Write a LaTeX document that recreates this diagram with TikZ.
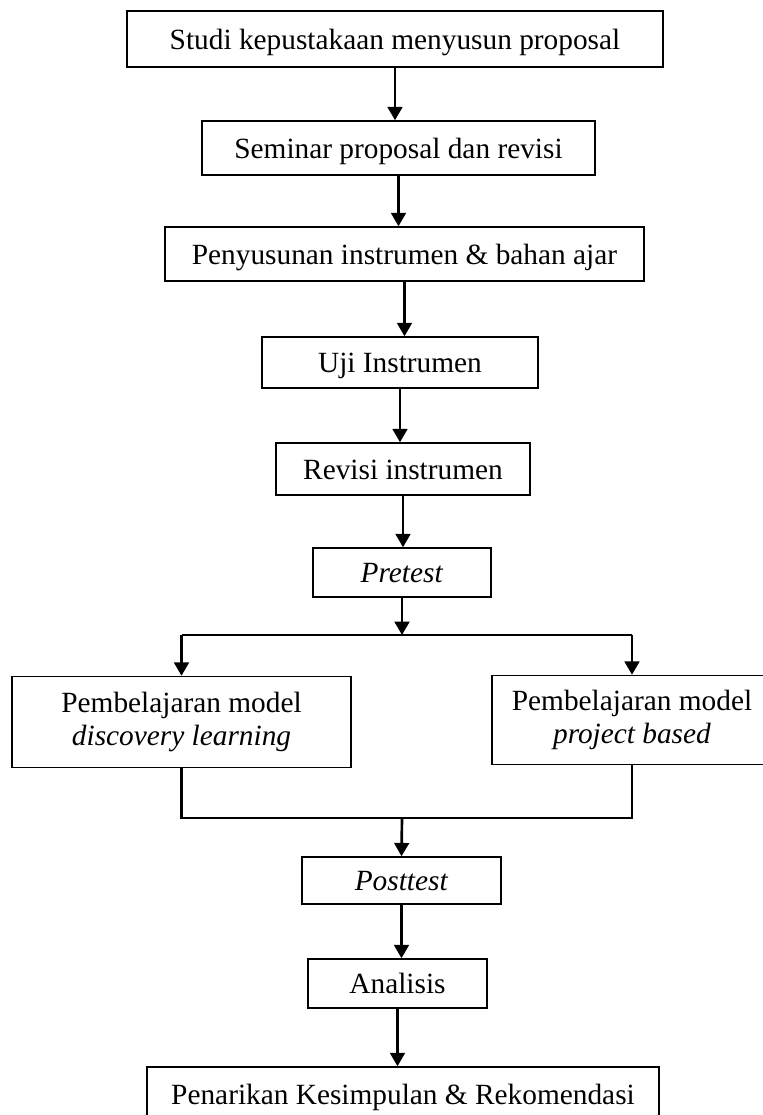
\documentclass[tikz,border=0pt]{standalone}
\usepackage{fontspec}
\setmainfont{Liberation Serif}
\usetikzlibrary{arrows.meta, calc, positioning}

\begin{document}
\begin{tikzpicture}[x=0.75pt, y=-0.75pt, >={Triangle[length=10pt,width=11pt]},
	kotak/.style={draw, line width=1.1pt, inner sep=0pt, align=center, text height=15.5pt, text depth=0pt, font=\fontsize{22}{25}\selectfont},
	kotakdua/.style={draw, line width=1.1pt, inner sep=0pt, align=center, font=\fontsize{22}{25}\selectfont},
	panah/.style={->, line width=2pt},
	garis/.style={line width=2pt}]
		\useasboundingbox (0,0) rectangle (763,1115);
		% alur utama
		\node[kotak, minimum width=402pt, minimum height=42pt] (studi) at (395,39) {Studi kepustakaan menyusun proposal};
		\node[kotak, minimum width=294.75pt, minimum height=40.5pt] (seminar) at (398.5,148) {Seminar proposal dan revisi};
		\node[kotak, minimum width=359.25pt, minimum height=40.5pt] (susun) at (404.5,254) {Penyusunan instrumen \& bahan ajar};
		\node[kotak, minimum width=207pt, minimum height=38.25pt] (uji) at (400,362.5) {Uji Instrumen};
		\node[kotak, minimum width=190.5pt, minimum height=39pt] (revisi) at (403,469) {Revisi instrumen};
		\node[kotak, minimum width=133.5pt, minimum height=36.75pt] (pretest) at (402,572.5) {\textit{Pretest}};
		\draw[panah] (studi.south) -- (studi.south |- seminar.north); \draw[panah] (seminar.south) -- (seminar.south |- susun.north);
		\draw[panah] (susun.south) -- (susun.south |- uji.north); \draw[panah] (uji.south) -- (uji.south |- revisi.north);
		\draw[panah] (revisi.south) -- (revisi.south |- pretest.north);

		% dua kelas
		\node[kotakdua, minimum width=254.25pt, minimum height=68.25pt] (discovery) at (181.5,722) {Pembelajaran model\\\textit{discovery learning}};
		\node[kotakdua, minimum width=210pt, minimum height=66.75pt] (project) at (632,720) {Pembelajaran model\\\textit{project based}};
		\coordinate (cabang) at (402,635); \coordinate (gabung) at (402,818);
		\draw[panah] (pretest.south) -- (cabang); \draw[garis] (discovery.north |- cabang) -- (project.north |- cabang);
		\draw[panah] (discovery.north |- cabang) -- (discovery.north); \draw[panah] (project.north |- cabang) -- (project.north);
		\draw[garis] (discovery.south) -- (discovery.south |- gabung) -- (project.south |- gabung) -- (project.south);

		% akhir
		\node[kotak, minimum width=149.25pt, minimum height=35.25pt] (posttest) at (401.5,880.5) {\textit{Posttest}};
		\node[kotak, minimum width=134.25pt, minimum height=36.75pt] (analisis) at (397.5,983.5) {Analisis};
		\node[kotak, minimum width=384pt, minimum height=40.5pt] (simpul) at (403,1094) {Penarikan Kesimpulan \& Rekomendasi};
		\draw[panah] (gabung) -- (posttest.north); \draw[panah] (posttest.south) -- (posttest.south |- analisis.north);
		\draw[panah] (analisis.south) -- (analisis.south |- simpul.north);
	\end{tikzpicture}
\end{document}
